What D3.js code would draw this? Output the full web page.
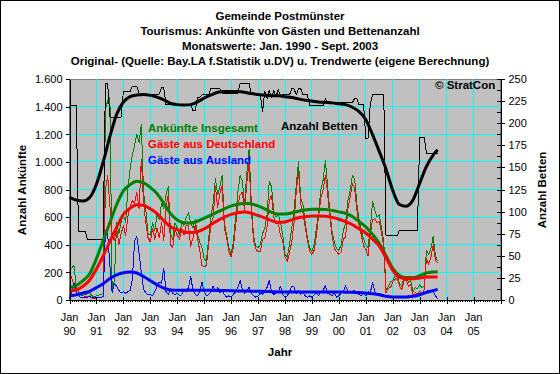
<!DOCTYPE html>
<html><head><meta charset="utf-8">
<script src="https://cdn.jsdelivr.net/npm/d3@7"></script>
<style>
body{margin:0;background:#fff}
svg{display:block}
text{font-family:"Liberation Sans",Arial,Helvetica,sans-serif}
</style>
</head><body><svg id="c" width="560" height="374"></svg>
<script>
// ---------- texts ----------
const titleLines = [
  "Gemeinde Postmünster",
  "Tourismus: Ankünfte von Gästen und Bettenanzahl",
  "Monatswerte: Jan. 1990 - Sept. 2003",
  "Original- (Quelle: Bay.LA f.Statistik u.DV) u. Trendwerte (eigene Berechnung)"
];
const yearLabels = ["90","91","92","93","94","95","96","97","98","99","00","01","02","03","04","05"];
const leftTicks = [0,200,400,600,800,1000,1200,1400,1600];
const rightTicks = [0,25,50,75,100,125,150,175,200,225,250];
const seriesNames = ["Ankünfte Insgesamt","Gäste aus Deutschland","Gäste aus Ausland","Anzahl Betten"];

// ---------- monthly raw values, Jan 1990 .. Sep 2003 ----------
const gesamt = [
 215,230,250,100,60,40,30,40,45,55,30,25,
 30,35,40,50,1380,1440,1470,50,150,560,480,560,
 620,560,800,950,1050,1120,1200,1140,1270,780,650,480,
 470,560,500,620,580,700,660,760,820,480,440,560,
 520,470,560,540,600,630,560,520,580,480,420,380,
 300,280,450,600,700,880,760,820,900,560,470,380,
 330,420,600,780,900,860,700,920,1090,700,460,390,
 380,400,480,520,620,860,820,640,600,620,560,470,
 330,310,400,520,650,830,1000,740,690,560,450,380,
 350,400,520,640,800,870,1010,820,640,490,420,370,
 360,400,500,560,720,790,900,880,700,580,500,440,
 400,380,520,712,650,600,620,520,420,70,100,130,
 140,170,175,120,100,160,170,130,140,60,90,80,
 110,90,100,360,330,370,460,320,280
];
const deutschland = [
 200,160,110,50,30,20,15,25,25,30,15,10,
 15,15,20,25,800,900,680,480,430,520,400,480,
 540,470,600,680,720,700,780,660,1020,700,560,450,
 420,520,440,520,450,560,430,680,760,400,380,510,
 470,440,520,470,540,540,390,450,540,450,360,250,
 240,250,410,540,600,820,670,770,830,520,450,350,
 310,380,540,690,760,780,650,850,1000,650,430,370,
 350,350,440,450,530,720,760,600,550,560,460,430,
 310,280,340,420,555,780,930,700,630,530,430,350,
 330,360,470,610,740,800,905,770,600,460,370,350,
 330,350,440,455,660,740,840,810,650,540,470,390,
 370,320,470,580,590,560,570,490,380,50,85,90,
 125,150,160,100,75,140,145,100,115,30,55,40,
 65,40,75,300,260,305,400,290,270
];
const ausland = [
 10,60,120,60,30,20,15,15,20,25,15,15,
 15,20,20,25,500,480,250,50,120,100,70,50,
 60,50,60,70,150,430,460,340,200,80,50,40,
 40,30,60,100,130,120,230,60,40,70,50,40,
 50,30,40,70,60,90,170,70,40,30,60,130,
 60,30,40,60,100,60,90,50,70,40,20,30,
 20,40,60,90,140,80,50,70,90,50,30,20,
 30,50,40,70,90,140,60,40,50,60,100,40,
 20,30,60,100,95,50,70,40,60,30,20,30,
 20,40,50,30,60,70,105,50,40,30,50,20,
 30,50,60,105,60,50,60,70,50,40,30,50,
 30,60,50,130,60,40,50,30,40,20,15,20,
 15,20,15,20,25,20,25,30,25,30,35,40,
 45,50,55,60,70,65,60,30,10
];
const betten = [
 220,220,220,220,78,78,78,78,68,68,68,68,
 68,68,68,68,245,245,207,207,207,207,207,207,
 236,236,236,236,242,242,242,233,233,233,233,233,
 233,233,233,233,233,240,240,221,221,221,221,221,
 221,221,221,221,221,221,221,214,214,229,229,232,
 232,232,232,239,239,239,239,239,234,234,234,234,
 234,234,234,234,245,245,245,245,245,232,232,232,
 232,232,213,236,228,237,229,237,230,238,231,232,
 232,232,232,239,239,232,239,239,232,232,232,220,
 220,220,220,220,220,220,228,223,223,223,223,223,
 223,223,223,223,223,223,223,228,228,221,221,221,
 183,183,222,232,232,232,232,232,232,73,73,73,
 73,73,73,79,79,79,79,79,79,79,79,79,
 184,184,184,166,166,166,166,166,166
];

// ---------- trend values (read at quarterly months) ----------
const trendMonths = [0,3,6,9,12,15,18,21,24,27,30,33,36,39,42,45,48,51,54,57,60,63,66,69,72,75,78,81,84,87,90,93,96,99,102,105,108,111,114,117,120,123,126,129,132,135,138,141,144,147,150,153,156,159,162,164];
const gesamtTrend = [90,105,140,190,300,430,560,690,790,835,860,848,815,770,700,625,580,560,558,570,592,615,638,660,682,693,700,695,681,660,635,622,622,630,643,652,657,657,656,648,638,628,605,568,530,475,410,320,230,178,162,162,176,196,203,205];
const deutschlandTrend = [65,73,100,145,225,320,425,525,620,665,690,685,660,625,575,530,510,492,488,495,515,545,575,600,620,632,637,628,612,595,575,562,565,580,595,603,608,608,607,598,585,568,545,515,485,440,390,305,215,165,154,154,160,166,167,167];
const auslandTrend = [29,37,50,63,90,118,155,182,198,202,195,170,140,110,86,73,70,70,70,70,70,70,69,68,67,66,65,64,63,62,60,58,58,58,58,58,58,58,58,58,58,57,56,54,50,45,38,27,22,22,22,27,38,55,68,77];
const bettenTrend = [116,113,112,116,131,156,185,210,224,230,232,232.5,231.5,229.5,226.5,222.5,221,220.5,221,224,228.5,232,235,236,236,236,235,233.5,232.5,231.5,231,231,230,229,227.5,226,225,224,223.5,223,222,221,218,213,204,187,168,148,124,108,106,113,132,151,164,170];

// ---------- drawing ----------
const W = 560, H = 374;
const P = {l: 69.5, r: 500.5, t: 79, b: 300};
const svg = d3.select("#c");
const de = d3.formatLocale({decimal: ",", thousands: ".", grouping: [3], currency: ["", " €"]});
const fmt = de.format(",");

const x = d3.scaleLinear().domain([0, 192]).range([P.l, P.r]);
const yL = d3.scaleLinear().domain([0, 1600]).range([P.b, P.t]);
const yR = d3.scaleLinear().domain([0, 250]).range([P.b, P.t]);

svg.append("rect").attr("x", 0.5).attr("y", 0.5).attr("width", W - 1).attr("height", H - 1)
  .attr("fill", "#fff").attr("stroke", "#000");

// plot background
svg.append("rect").attr("x", P.l).attr("y", P.t).attr("width", P.r - P.l).attr("height", P.b - P.t)
  .attr("fill", "#c0c0c0").attr("stroke", "#808080").attr("shape-rendering", "crispEdges");

// grid
const yearMonths = yearLabels.map((d, i) => i * 12);
const grid = svg.append("g").attr("stroke", "#00ffff").attr("stroke-width", 1).attr("shape-rendering", "crispEdges");
grid.selectAll("line.h").data(leftTicks.filter(v => v > 0 && v < 1600)).join("line")
  .attr("x1", P.l).attr("x2", P.r).attr("y1", d => yL(d)).attr("y2", d => yL(d));
grid.selectAll("line.v").data(yearMonths.filter(m => m > 0)).join("line")
  .attr("y1", P.t).attr("y2", P.b).attr("x1", d => x(d)).attr("x2", d => x(d));

// lines
const months = d3.range(gesamt.length);
const rawLine = (arr, sc) => d3.line().x(i => x(i)).y(i => sc(arr[i]))(months);
const trendLine = (arr, sc) => d3.line().curve(d3.curveMonotoneX)
  .x((d, i) => x(trendMonths[i])).y(d => sc(d))(arr);

const plot = svg.append("g").attr("fill", "none").attr("stroke-linejoin", "round");
const thin = plot.append("g").attr("shape-rendering", "crispEdges");
thin.append("path").attr("d", rawLine(gesamt, yL)).attr("stroke", "#008000").attr("stroke-width", 1);
thin.append("path").attr("d", rawLine(deutschland, yL)).attr("stroke", "#ff0000").attr("stroke-width", 1);
thin.append("path").attr("d", rawLine(ausland, yL)).attr("stroke", "#0000ff").attr("stroke-width", 1);
thin.append("path").attr("d", rawLine(betten, yR)).attr("stroke", "#000").attr("stroke-width", 1);
plot.append("path").attr("d", trendLine(gesamtTrend, yL)).attr("stroke", "#008000").attr("stroke-width", 3);
plot.append("path").attr("d", trendLine(deutschlandTrend, yL)).attr("stroke", "#ff0000").attr("stroke-width", 3);
plot.append("path").attr("d", trendLine(auslandTrend, yL)).attr("stroke", "#0000ff").attr("stroke-width", 3);
plot.append("path").attr("d", trendLine(bettenTrend, yR)).attr("stroke", "#000").attr("stroke-width", 3);

// axes
const axStyle = g => {
  g.attr("shape-rendering", "crispEdges");
  g.selectAll("text").attr("font-size", 11).attr("fill", "#000").attr("font-family", "Liberation Sans, Arial, sans-serif");
  g.selectAll("line,path").attr("stroke", "#000");
};
svg.append("g").attr("transform", `translate(${P.l},0)`)
  .call(d3.axisLeft(yL).tickValues(leftTicks).tickFormat(fmt).tickSize(4).tickSizeOuter(0).tickPadding(3))
  .call(axStyle).call(g => g.selectAll("text").attr("dy", "0.35em"));
svg.append("g").attr("transform", `translate(${P.r},0)`)
  .call(d3.axisRight(yR).tickValues(rightTicks).tickSize(4).tickSizeOuter(0).tickPadding(4))
  .call(axStyle).call(g => g.selectAll(".tick line").attr("x1", -4));
// right minor ticks
svg.append("g").attr("transform", `translate(${P.r},0)`)
  .call(d3.axisLeft(yR).tickValues(rightTicks.slice(0, -1).map(v => v + 12.5)).tickSize(4).tickSizeOuter(0).tickFormat(""))
  .call(axStyle).call(g => g.select(".domain").remove());
// bottom axis
svg.append("g").attr("transform", `translate(0,${P.b})`)
  .call(d3.axisBottom(x).tickValues(yearMonths.concat([192])).tickSize(4).tickSizeOuter(0).tickFormat(""))
  .call(axStyle).call(g => g.selectAll(".tick line").attr("y1", -3));
svg.append("g").attr("transform", `translate(0,${P.b})`)
  .call(d3.axisBottom(x).tickValues(d3.range(0, 193)).tickSize(2).tickSizeOuter(0).tickFormat(""))
  .call(axStyle).call(g => g.select(".domain").remove());

const xl = svg.append("g").attr("font-size", 11).attr("text-anchor", "middle").attr("fill", "#000");
xl.selectAll("text.a").data(yearLabels).join("text").attr("x", (d, i) => x(yearMonths[i])).attr("y", 320.5).text("Jan");
xl.selectAll("text.b").data(yearLabels).join("text").attr("x", (d, i) => x(yearMonths[i])).attr("y", 334.5).text(d => d);

// titles
svg.append("g").attr("font-size", 11.5).attr("font-weight", "bold").attr("text-anchor", "middle")
  .selectAll("text").data(titleLines).join("text")
  .attr("x", 280).attr("y", (d, i) => 19.5 + i * 15.3).text(d => d);

svg.append("text").attr("x", 280).attr("y", 356).attr("font-size", 11.5).attr("font-weight", "bold")
  .attr("text-anchor", "middle").text("Jahr");
svg.append("text").attr("transform", "translate(26,190) rotate(-90)").attr("font-size", 11.5).attr("font-weight", "bold")
  .attr("text-anchor", "middle").text("Anzahl Ankünfte");
svg.append("text").attr("transform", "translate(545.5,190) rotate(-90)").attr("font-size", 11.5).attr("font-weight", "bold")
  .attr("text-anchor", "middle").text("Anzahl Betten");

// in-plot labels
const lab = svg.append("g").attr("font-size", 11.5).attr("font-weight", "bold");
lab.append("text").attr("x", 148).attr("y", 131.5).attr("fill", "#008000").text(seriesNames[0]);
lab.append("text").attr("x", 148).attr("y", 147.5).attr("fill", "#ff0000").text(seriesNames[1]);
lab.append("text").attr("x", 148).attr("y", 163.5).attr("fill", "#0000ff").text(seriesNames[2]);
lab.append("text").attr("x", 281).attr("y", 129.5).attr("fill", "#000").text(seriesNames[3]);
lab.append("text").attr("x", 435).attr("y", 89).attr("fill", "#000").text("© StratCon");
</script>
</body></html>
